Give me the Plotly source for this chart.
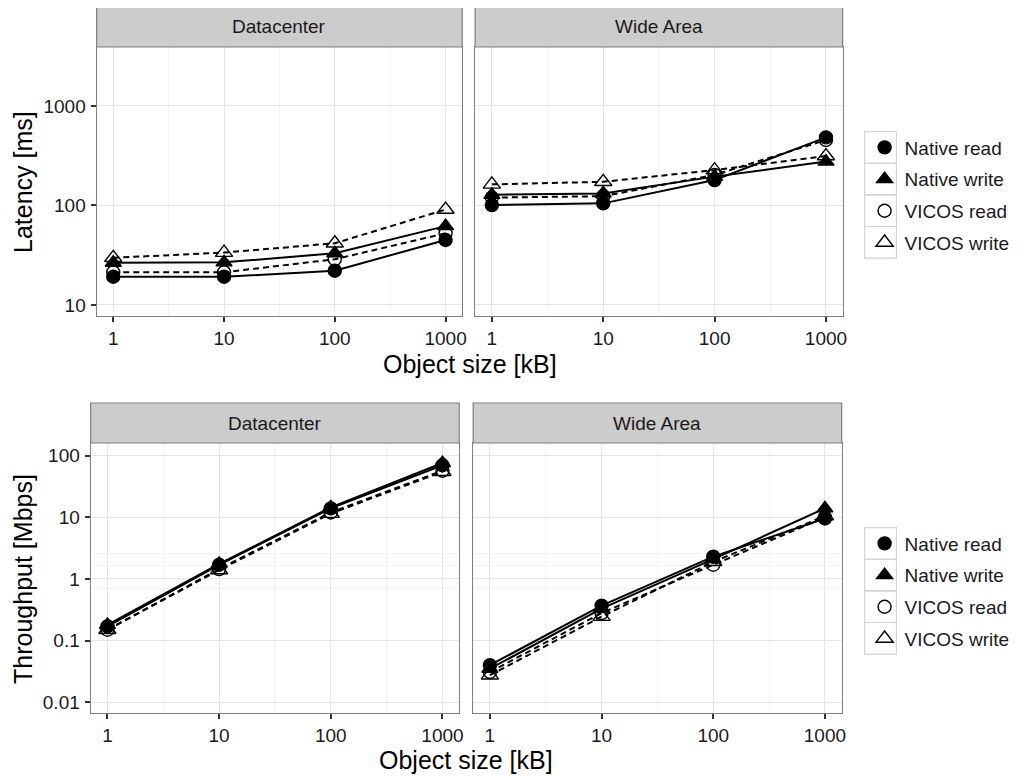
import plotly.graph_objects as go

# ---------------- data ----------------
sizes_kb = [1, 10, 100, 1000]
series_names = ["Native read", "Native write", "VICOS read", "VICOS write"]
panel_names = ["Datacenter", "Wide Area"]

# Latency [ms] - Datacenter
lat_dc_native_read = [19.2, 19.2, 22.1, 45]
lat_dc_native_write = [26.6, 26.8, 33.1, 62]
lat_dc_vicos_read = [21.3, 21.3, 28.8, 52.5]
lat_dc_vicos_write = [29.8, 33.6, 41.7, 91]
# Latency [ms] - Wide Area
lat_wa_native_read = [101, 105, 180, 484]
lat_wa_native_write = [128, 132, 195, 276]
lat_wa_vicos_read = [120, 124, 203, 455]
lat_wa_vicos_write = [163, 173, 227, 314]
# Throughput [Mbps] - Datacenter
tp_dc_native_read = [0.17, 1.7, 14, 70]
tp_dc_native_write = [0.18, 1.75, 14.5, 76]
tp_dc_vicos_read = [0.15, 1.45, 12, 57]
tp_dc_vicos_write = [0.15, 1.4, 11.5, 55]
# Throughput [Mbps] - Wide Area
tp_wa_native_read = [0.04, 0.37, 2.3, 9.6]
tp_wa_native_write = [0.035, 0.33, 2.1, 14]
tp_wa_vicos_read = [0.031, 0.28, 1.7, 10]
tp_wa_vicos_write = [0.0275, 0.245, 1.9, 10.5]

x_tick_vals = [1, 10, 100, 1000]
x_tick_text = ["1", "10", "100", "1000"]
lat_tick_vals = [10, 100, 1000]
lat_tick_text = ["10", "100", "1000"]
tp_tick_vals = [0.01, 0.1, 1, 10, 100]
tp_tick_text = ["0.01", "0.1", "1", "10", "100"]

# ---------------- layout geometry (page pixels) ----------------
PAGE_OFF = 8            # default body margin of the html page
W, H = 1018 - PAGE_OFF, 776 - PAGE_OFF


def fx(px):
    return (px - PAGE_OFF) / W


def fy(py):
    return 1 - (py - PAGE_OFF) / H


panels = {
    # name: (x0, x1, y_top, y_bottom, strip_top)
    "tl": (97, 464, 47, 316, 6),
    "tr": (477, 846, 47, 316, 6),
    "bl": (91, 461, 443, 713, 403),
    "br": (475, 845, 443, 713, 403),
}

styles = {
    "Native read": dict(symbol="circle", dash="solid", size=13),
    "Native write": dict(symbol="triangle-up", dash="solid", size=14),
    "VICOS read": dict(symbol="circle-open", dash="6px,4px", size=13),
    "VICOS write": dict(symbol="triangle-up-open", dash="6px,4px", size=15),
}

fig = go.Figure()

panel_data = {
    "tl": [lat_dc_native_read, lat_dc_native_write, lat_dc_vicos_read, lat_dc_vicos_write],
    "tr": [lat_wa_native_read, lat_wa_native_write, lat_wa_vicos_read, lat_wa_vicos_write],
    "bl": [tp_dc_native_read, tp_dc_native_write, tp_dc_vicos_read, tp_dc_vicos_write],
    "br": [tp_wa_native_read, tp_wa_native_write, tp_wa_vicos_read, tp_wa_vicos_write],
}
axis_ids = {"tl": ("x", "y"), "tr": ("x2", "y2"), "bl": ("x3", "y3"), "br": ("x4", "y4")}

# lines first (no legend), then points (in legend) — as ggplot layers
for key, data in panel_data.items():
    xa, ya = axis_ids[key]
    for name, vals in zip(series_names, data):
        st = styles[name]
        fig.add_trace(go.Scatter(
            x=sizes_kb, y=vals, name=name, mode="lines",
            xaxis=xa, yaxis=ya,
            line=dict(color="black", width=2, dash=st["dash"]),
            showlegend=False, hoverinfo="skip",
        ))
for key, data in panel_data.items():
    xa, ya = axis_ids[key]
    legend_name = "legend" if key in ("tl", "tr") else "legend2"
    show = key in ("tl", "bl")
    for name, vals in zip(series_names, data):
        st = styles[name]
        fig.add_trace(go.Scatter(
            x=sizes_kb, y=vals, name=name, mode="markers",
            xaxis=xa, yaxis=ya,
            marker=dict(symbol=st["symbol"], size=st["size"], color="black",
                        line=dict(color="black", width=1.4)),
            showlegend=show, legend=legend_name,
            legendgroup=f"{legend_name}_{name}",
        ))

grid_major = "#e5e5e5"
grid_minor = "#f3f3f3"
border = "#7f7f7f"
text_col = "#1a1a1a"
tick_font = dict(family="Liberation Sans, Arial, sans-serif", size=19, color=text_col)

layout_axes = {}
for key, (x0, x1, yt, yb, st) in panels.items():
    xa, ya = axis_ids[key]
    xname = "xaxis" if xa == "x" else "xaxis" + xa[1:]
    yname = "yaxis" if ya == "y" else "yaxis" + ya[1:]
    top = key in ("tl", "tr")
    left = key in ("tl", "bl")
    layout_axes[xname] = dict(
        type="log", domain=[fx(x0), fx(x1)], range=[-0.15, 3.15],
        anchor=ya, tickvals=x_tick_vals, ticktext=x_tick_text,
        ticks="outside", ticklen=5, tickwidth=1.5, tickcolor="#333333",
        tickfont=tick_font, ticklabelstandoff=0,
        showgrid=True, gridcolor=grid_major, gridwidth=1,
        minor=dict(tickvals=[10 ** 0.5, 10 ** 1.5, 10 ** 2.5], showgrid=True,
                   gridcolor=grid_minor, gridwidth=1, ticks=""),
        showline=True, linecolor=border, linewidth=1.2, mirror=True,
        zeroline=False, fixedrange=True,
    )
    if top:
        yrange = [0.889, 3.593]
        tv, tt = lat_tick_vals, lat_tick_text
        minor_vals = []
    else:
        yrange = [-2.174, 2.206]
        tv, tt = tp_tick_vals, tp_tick_text
        minor_vals = [0.71, 1.68, 2.63]
    layout_axes[yname] = dict(
        type="log", domain=[fy(yb), fy(yt)], range=yrange, anchor=xa,
        tickvals=tv, ticktext=tt, showticklabels=left,
        ticks="outside" if left else "", ticklen=5, tickwidth=1.5, tickcolor="#333333",
        tickfont=tick_font, ticklabelstandoff=1,
        showgrid=True, gridcolor=grid_major, gridwidth=1,
        minor=dict(tickvals=minor_vals, showgrid=True, gridcolor=grid_minor,
                   gridwidth=1, ticks=""),
        showline=True, linecolor=border, linewidth=1.2, mirror=True,
        zeroline=False, fixedrange=True,
    )

shapes = []
annotations = []
for key, (x0, x1, yt, yb, st) in panels.items():
    shapes.append(dict(type="rect", xref="paper", yref="paper",
                       x0=fx(x0), x1=fx(x1), y0=fy(yt), y1=fy(st),
                       fillcolor="#cccccc", line=dict(color=border, width=1.2),
                       layer="above"))
    pname = panel_names[0] if key in ("tl", "bl") else panel_names[1]
    annotations.append(dict(text=pname, xref="paper", yref="paper",
                            x=fx((x0 + x1) / 2), y=fy((yt + st) / 2),
                            xanchor="center", yanchor="middle", showarrow=False,
                            font=dict(family="Liberation Sans, Arial, sans-serif",
                                      size=19, color=text_col)))

title_font = dict(family="Liberation Sans, Arial, sans-serif", size=25, color="black")
annotations += [
    dict(text="Object size [kB]", xref="paper", yref="paper", x=fx(472), y=fy(364),
         xanchor="center", yanchor="middle", showarrow=False, font=title_font),
    dict(text="Object size [kB]", xref="paper", yref="paper", x=fx(468), y=fy(760),
         xanchor="center", yanchor="middle", showarrow=False, font=title_font),
    dict(text="Latency [ms]", xref="paper", yref="paper", x=fx(23), y=fy(182),
         xanchor="center", yanchor="middle", showarrow=False, textangle=-90,
         font=title_font),
    dict(text="Throughput [Mbps]", xref="paper", yref="paper", x=fx(23), y=fy(579),
         xanchor="center", yanchor="middle", showarrow=False, textangle=-90,
         font=title_font),
]

# legend key boxes (ggplot style)
key_h = 31.6
for top_px in (131.7, 527.7):
    for i in range(4):
        shapes.append(dict(type="rect", xref="paper", yref="paper",
                           x0=fx(868), x1=fx(900),
                           y0=fy(top_px + (i + 1) * key_h), y1=fy(top_px + i * key_h),
                           line=dict(color="#d4d4d4", width=1.2), fillcolor="rgba(0,0,0,0)",
                           layer="above"))

legend_font = dict(family="Liberation Sans, Arial, sans-serif", size=19, color=text_col)
legend_common = dict(font=legend_font, bgcolor="rgba(0,0,0,0)", borderwidth=0,
                     tracegroupgap=4, traceorder="grouped", xanchor="left",
                     yanchor="middle", itemsizing="trace")

fig.update_layout(
    width=W, height=H, margin=dict(l=0, r=0, t=0, b=0),
    paper_bgcolor="white", plot_bgcolor="white",
    shapes=shapes, annotations=annotations,
    legend=dict(x=fx(868), y=fy(195), **legend_common),
    legend2=dict(x=fx(868), y=fy(591), **legend_common),
    **layout_axes,
)

fig.write_html("out.html")
